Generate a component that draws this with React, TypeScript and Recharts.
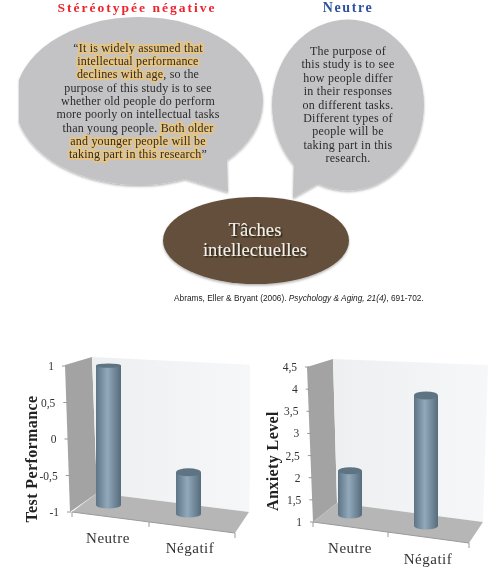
import React from "react";
import { BarChart, Bar, XAxis, YAxis, Customized } from "recharts";

const categories = ["Neutre", "Négatif"];
const performanceValues = [1, -0.4];
const anxietyValues = [2, 3.95];
const performanceTicks = [-1, -0.5, 0, 0.5, 1];
const anxietyTicks = [1, 1.5, 2, 2.5, 3, 3.5, 4, 4.5];

const negativeLines: [string, boolean][][] = [
  [["“", false], ["It is widely assumed that", true]],
  [["intellectual performance", true]],
  [["declines with age", true], [", so the", false]],
  [["purpose of this study is to see", false]],
  [["whether old people do perform", false]],
  [["more poorly on intellectual tasks", false]],
  [["than young people. ", false], ["Both older", true]],
  [["and younger people will be", true]],
  [["taking part in this research", true], ["”", false]],
];
const neutralLines = [
  "The purpose of",
  "this study is to see",
  "how people differ",
  "in their responses",
  "on different tasks.",
  "Different types of",
  "people will be",
  "taking part in this",
  "research.",
];

const SERIF = "'Liberation Serif', serif";

// projection of the excel 3D chart: floor runs downhill to the right
const perfView = {
  id: "perf",
  left: 0,
  w: 250,
  margin: { top: 26, right: 22, bottom: 35, left: 0 },
  axisW: 68,
  barW: 25,
  slope: 0.1125,
  baseDy: -7,
  firstCx: 108,
  k: 0.955,
  capRy: [2.2, 4],
  labelY: 203,
  labelSlope: 0.13,
  tickEnd: 54,
  tickSkew: 5,
  title: "Test Performance",
  titleX: 37,
  titleY: 119,
  leftWall: "65,25 92,17 97,153 70,172",
  backWall: "92,17 253,25 249,172 97,153",
  floor: "72,172 97,153 249,172 235,193",
  ticks: [72, 149, 235],
  edge: [72, 172, 235, 193],
};
const anxietyView = {
  id: "anx",
  left: 250,
  w: 252,
  margin: { top: 27, right: 38, bottom: 25, left: 0 },
  axisW: 62,
  barW: 24,
  slope: 0.145,
  baseDy: -7,
  firstCx: 100,
  k: 1,
  capRy: [3.5, 4],
  labelY: 213,
  labelSlope: 0.14,
  tickEnd: 47,
  tickSkew: 5,
  title: "Anxiety Level",
  titleX: 28,
  titleY: 121,
  leftWall: "57,27 83,19 87,163 63,182",
  backWall: "83,19 238,25 233,182 87,163",
  floor: "63,182 87,163 233,182 219,203",
  ticks: [63, 138, 219],
  edge: [63, 182, 219, 203],
};

function Cylinder(props: any, v: typeof perfView) {
  const { x, y, width, height, index } = props;
  const h = Math.abs(height);
  const cx = x + width / 2;
  const base = Math.min(y, y + height) + h + v.baseDy + v.slope * (cx - v.firstCx);
  const top = base - h * v.k;
  const rx = width / 2;
  const ry = v.capRy[index];
  return (
    <g>
      <path
        d={`M${x},${top} L${x},${base} A${rx},3.5 0 0 0 ${x + width},${base} L${x + width},${top} Z`}
        fill={`url(#${v.id}Cyl)`}
      />
      <ellipse cx={cx} cy={top} rx={rx} ry={ry} fill="#5f7483" />
    </g>
  );
}

function Walls({ v }: { v: typeof perfView }) {
  return (
    <g>
      <defs>
        <linearGradient id={`${v.id}Cyl`} x1="0" y1="0" x2="1" y2="0">
          <stop offset="0%" stopColor="#5d7486" />
          <stop offset="45%" stopColor="#91a9bb" />
          <stop offset="100%" stopColor="#566c7d" />
        </linearGradient>
        <linearGradient id={`${v.id}Back`} x1="0" y1="0" x2="1" y2="0">
          <stop offset="0%" stopColor="#edeff1" />
          <stop offset="100%" stopColor="#f6f7f9" />
        </linearGradient>
      </defs>
      <polygon points={v.leftWall} fill="#a3a3a3" />
      <polygon points={v.backWall} fill={`url(#${v.id}Back)`} />
      <polygon points={v.floor} fill="#b6b6b6" />
      <line x1={v.edge[0]} y1={v.edge[1]} x2={v.edge[2]} y2={v.edge[3]} stroke="#9a9a9a" />
      {v.ticks.map((tx) => {
        const ty = v.edge[1] + ((tx - v.edge[0]) * (v.edge[3] - v.edge[1])) / (v.edge[2] - v.edge[0]);
        return <line key={tx} x1={tx} y1={ty} x2={tx} y2={ty + 5} stroke="#9a9a9a" />;
      })}
      <text
        x={v.titleX}
        y={v.titleY}
        transform={`rotate(-90 ${v.titleX} ${v.titleY})`}
        textAnchor="middle"
        fontFamily={SERIF}
        fontWeight="bold"
        fontSize={16}
        letterSpacing={0.4}
        fill="#222"
      >
        {v.title}
      </text>
    </g>
  );
}

function YTick(props: any, v: typeof perfView, top: number, bottom: number) {
  const { y, payload } = props;
  const skew = ((y - top) / (bottom - top)) * v.tickSkew;
  const end = v.tickEnd + skew;
  return (
    <g>
      <line x1={end + 8} y1={y} x2={end + 12} y2={y} stroke="#9a9a9a" />
      <text x={end} y={y + 4} textAnchor="end" fontFamily={SERIF} fontSize={11.5} fill="#333">
        {String(payload.value).replace(".", ",")}
      </text>
    </g>
  );
}

function XTick(props: any, v: typeof perfView) {
  const { x, payload, index } = props;
  return (
    <text
      x={x + index * 2}
      y={v.labelY + v.labelSlope * (x - v.firstCx)}
      textAnchor="middle"
      fontFamily={SERIF}
      fontSize={15}
      letterSpacing={0.5}
      fill="#333"
    >
      {payload.value}
    </text>
  );
}

function Panel({ v, values, ticks }: { v: typeof perfView; values: number[]; ticks: number[] }) {
  const low = ticks[0];
  const high = ticks[ticks.length - 1];
  const data = categories.map((name, i) => ({ name, range: [low, values[i]] }));
  const plotTop = v.margin.top;
  const plotBottom = 237 - v.margin.bottom - 30;
  return (
    <div style={{ position: "absolute", left: v.left, top: 340 }}>
      <BarChart width={v.w} height={237} data={data} margin={v.margin} barSize={v.barW}>
        <Customized component={<Walls v={v} />} />
        <XAxis
          dataKey="name"
          height={30}
          axisLine={false}
          tickLine={false}
          interval={0}
          tick={(p: any) => XTick(p, v)}
        />
        <YAxis
          width={v.axisW}
          domain={[low, high]}
          ticks={ticks}
          interval={0}
          axisLine={false}
          tickLine={false}
          tick={(p: any) => YTick(p, v, plotTop, plotBottom)}
        />
        <Bar dataKey="range" isAnimationActive={false} shape={(p: any) => Cylinder(p, v)} />
      </BarChart>
    </div>
  );
}

function Speech() {
  return (
    <svg width={502} height={340} style={{ position: "absolute", left: 0, top: 0 }}>
      <defs>
        <filter id="soft" x="-10%" y="-10%" width="120%" height="125%">
          <feDropShadow dx="0" dy="1.5" stdDeviation="1.2" floodColor="#000" floodOpacity="0.3" />
        </filter>
        <filter id="letterShade" x="-10%" y="-20%" width="120%" height="140%">
          <feDropShadow dx="1.5" dy="1.5" stdDeviation="0.5" floodColor="#241b10" floodOpacity="0.8" />
        </filter>
        <clipPath id="cut">
          <rect x={19} y={0} width={300} height={220} />
        </clipPath>
      </defs>
      <text x={137} y={12} textAnchor="middle" fontFamily={SERIF} fontWeight="bold" fontSize={13.5} letterSpacing={2} fill="#f0222c">
        Stéréotypée négative
      </text>
      <text x={348} y={12} textAnchor="middle" fontFamily={SERIF} fontWeight="bold" fontSize={14} letterSpacing={1.6} fill="#2f52a0">
        Neutre
      </text>

      <g filter="url(#soft)">
        <g clipPath="url(#cut)">
          <ellipse cx={139} cy={101} rx={124} ry={84} fill="#c3c3c5" />
          <polygon points="227,150 228,192 186,179 170,170" fill="#c3c3c5" />
        </g>
      </g>
      <g filter="url(#soft)">
        <ellipse cx={348} cy={105} rx={76} ry={85.5} fill="#c3c3c5" />
        <polygon points="294,150 293,198 319,183 330,170" fill="#c3c3c5" />
      </g>

      <text textAnchor="middle" fontFamily={SERIF} fontSize={12} letterSpacing={0.18} fill="#2b2b2b">
        {negativeLines.map((line, i) => (
          <tspan key={i} x={138} y={51.5 + i * 13.35}>
            {line.map(([txt, hl], j) => (
              <tspan key={j} stroke={hl ? "#e8c47f" : "none"} strokeWidth={hl ? 3.4 : 0} style={{ paintOrder: "stroke" }}>
                {txt}
              </tspan>
            ))}
          </tspan>
        ))}
      </text>
      <text textAnchor="middle" fontFamily={SERIF} fontSize={12} letterSpacing={0.25} fill="#2b2b2b">
        {neutralLines.map((line, i) => (
          <tspan key={i} x={348} y={55 + i * 13.4}>
            {line}
          </tspan>
        ))}
      </text>

      <ellipse cx={256} cy={240.5} rx={93} ry={43.5} fill="#64503a" filter="url(#soft)" />
      <g textAnchor="middle" fontFamily={SERIF} fontSize={18.5} letterSpacing={0.1} fill="#f5f2ec" filter="url(#letterShade)">
        <text x={255} y={236}>Tâches</text>
        <text x={255} y={256}>intellectuelles</text>
      </g>

      <text x={174} y={301} fontFamily="'Liberation Sans', sans-serif" fontSize={8.3} fill="#222">
        Abrams, Eller & Bryant (2006). <tspan fontStyle="italic">Psychology & Aging, 21(4)</tspan>, 691-702.
      </text>
    </svg>
  );
}

export default function App() {
  return (
    <div style={{ position: "absolute", left: 0, top: 0, width: 502, height: 577, background: "#fff", overflow: "hidden", filter: "blur(0.3px)" }}>
      <Speech />
      <Panel v={perfView} values={performanceValues} ticks={performanceTicks} />
      <Panel v={anxietyView} values={anxietyValues} ticks={anxietyTicks} />
    </div>
  );
}
